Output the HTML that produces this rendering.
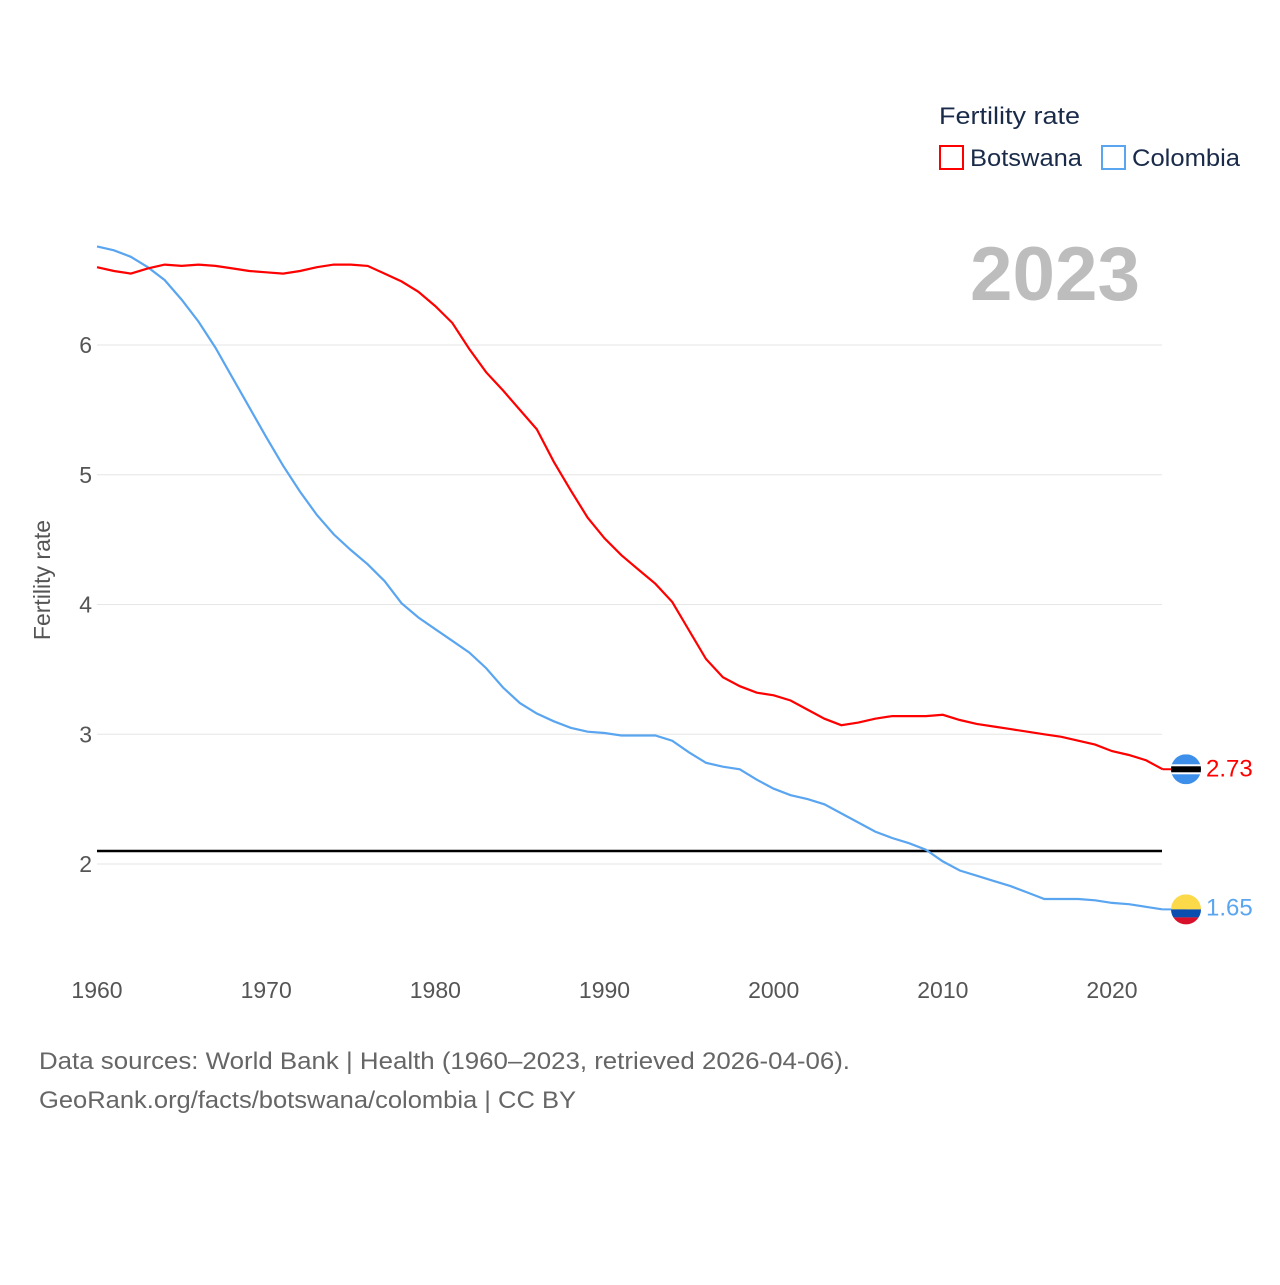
<!DOCTYPE html>
<html><head><meta charset="utf-8"><style>
body{margin:0;background:#fff;width:1280px;height:1280px;overflow:hidden;font-family:"Liberation Sans",sans-serif}
</style></head><body>
<svg id="chart" width="1280" height="1280" xmlns="http://www.w3.org/2000/svg" font-family="Liberation Sans, sans-serif">
<g id="grid"></g>
<g id="xt"></g>
<g id="yt"></g>
<text transform="translate(50,580) rotate(-90)" text-anchor="middle" font-size="23" fill="#555">Fertility rate</text>
<text x="1140" y="300" text-anchor="end" font-size="76" font-weight="bold" fill="#bdbdbd" textLength="170" lengthAdjust="spacingAndGlyphs">2023</text>
<g>
<text x="939" y="124" font-size="24" fill="#1a2b4a" textLength="141" lengthAdjust="spacingAndGlyphs">Fertility rate</text>
<g><rect x="940" y="146" width="23" height="23" fill="none" stroke="#ff0000" stroke-width="2"/><text x="970" y="166" font-size="24" fill="#1a2b4a" textLength="112" lengthAdjust="spacingAndGlyphs">Botswana</text></g>
<g><rect x="1102" y="146" width="23" height="23" fill="none" stroke="#5aa5f0" stroke-width="2"/><text x="1132" y="166" font-size="24" fill="#1a2b4a" textLength="108" lengthAdjust="spacingAndGlyphs">Colombia</text></g>
</g>
<g id="series"></g>
<text x="39" y="1069" font-size="24" fill="#666" textLength="811" lengthAdjust="spacingAndGlyphs">Data sources: World Bank | Health (1960–2023, retrieved 2026-04-06).</text>
<text x="39" y="1108" font-size="24" fill="#666" textLength="537" lengthAdjust="spacingAndGlyphs">GeoRank.org/facts/botswana/colombia | CC BY</text>
</svg>
<script>
const years=[];for(let y=1960;y<=2023;y++)years.push(y);
const botswana=[6.6,6.57,6.55,6.59,6.62,6.61,6.62,6.61,6.59,6.57,6.56,6.55,6.57,6.6,6.62,6.62,6.61,6.55,6.49,6.41,6.3,6.17,5.97,5.79,5.65,5.5,5.35,5.1,4.88,4.67,4.51,4.38,4.27,4.16,4.02,3.8,3.58,3.44,3.37,3.32,3.3,3.26,3.19,3.12,3.07,3.09,3.12,3.14,3.14,3.14,3.15,3.11,3.08,3.06,3.04,3.02,3.0,2.98,2.95,2.92,2.87,2.84,2.8,2.73];
const colombia=[6.76,6.73,6.68,6.6,6.5,6.35,6.18,5.98,5.75,5.52,5.29,5.07,4.87,4.69,4.54,4.42,4.31,4.18,4.01,3.9,3.81,3.72,3.63,3.51,3.36,3.24,3.16,3.1,3.05,3.02,3.01,2.99,2.99,2.99,2.95,2.86,2.78,2.75,2.73,2.65,2.58,2.53,2.5,2.46,2.39,2.32,2.25,2.2,2.16,2.11,2.02,1.95,1.91,1.87,1.83,1.78,1.73,1.73,1.73,1.72,1.7,1.69,1.67,1.65];
const xTicks=[1960,1970,1980,1990,2000,2010,2020];
const yTicks=[2,3,4,5,6];
const refValue=2.1;
const X=y=>97+(y-1960)*(1112-97)/60;
const Y=v=>864-(v-2)*129.75;
const NS="http://www.w3.org/2000/svg";
function mk(tag,attrs,parent,txt){const e=document.createElementNS(NS,tag);for(const k in attrs)e.setAttribute(k,attrs[k]);if(txt!==undefined)e.textContent=txt;parent.appendChild(e);return e;}
const grid=document.getElementById('grid'),xt=document.getElementById('xt'),yt=document.getElementById('yt'),ser=document.getElementById('series');
yTicks.forEach(t=>{
 const l=mk('line',{x1:97,x2:1162,y1:Y(t),y2:Y(t),stroke:'#e6e6e6','stroke-width':1},grid);
 
 
 const s=mk('text',{x:92,y:Y(t)+8,'text-anchor':'end','font-size':23,fill:'#555'},yt,String(t));
 
 
});
xTicks.forEach(t=>{
 const s=mk('text',{x:X(t),y:998,'text-anchor':'middle','font-size':23,fill:'#555'},xt,String(t));
 
 
});
const ref=mk('line',{x1:97,x2:1162,y1:Y(refValue),y2:Y(refValue),stroke:'#000','stroke-width':2.5},ser);


function line(vals,color,name){
 const d=vals.map((v,i)=>(i?'L':'M')+X(years[i]).toFixed(1)+','+Y(v).toFixed(1)).join('');
 const p=mk('path',{d:d,fill:'none',stroke:color,'stroke-width':2.2},ser);
 
 
}
line(colombia,'#5aa5f0','colombia-line');
line(botswana,'#ff0000','botswana-line');
const lb=botswana[botswana.length-1],lc=colombia[colombia.length-1];
const cx=1186;
const gb=mk('g',{},ser);


mk('line',{x1:X(2023),x2:cx,y1:Y(lb),y2:Y(lb),stroke:'#ff0000','stroke-width':2},gb);
mk('clipPath',{id:'cb'},gb);
mk('circle',{cx:cx,cy:Y(lb),r:15},gb.lastChild);
const fb=mk('g',{'clip-path':'url(#cb)'},gb);
mk('rect',{x:cx-15,y:Y(lb)-15,width:30,height:30,fill:'#3d8fea'},fb);
mk('rect',{x:cx-15,y:Y(lb)-5,width:30,height:10,fill:'#fff'},fb);
mk('rect',{x:cx-15,y:Y(lb)-3,width:30,height:6,fill:'#000'},fb);
const tb=mk('text',{x:1206,y:Y(lb)+7,'font-size':24,fill:'#ff0000'},ser,lb.toFixed(2));


const gc=mk('g',{},ser);


mk('line',{x1:X(2023),x2:cx,y1:Y(lc),y2:Y(lc),stroke:'#5aa5f0','stroke-width':2},gc);
mk('clipPath',{id:'cc'},gc);
mk('circle',{cx:cx,cy:Y(lc),r:15},gc.lastChild);
const fc=mk('g',{'clip-path':'url(#cc)'},gc);
mk('rect',{x:cx-15,y:Y(lc)-15,width:30,height:15,fill:'#fcd949'},fc);
mk('rect',{x:cx-15,y:Y(lc),width:30,height:8,fill:'#0a4fb0'},fc);
mk('rect',{x:cx-15,y:Y(lc)+8,width:30,height:8,fill:'#d8102a'},fc);
const tc=mk('text',{x:1206,y:Y(lc)+6,'font-size':24,fill:'#5aa5f0'},ser,lc.toFixed(2));


</script>
</body></html>
